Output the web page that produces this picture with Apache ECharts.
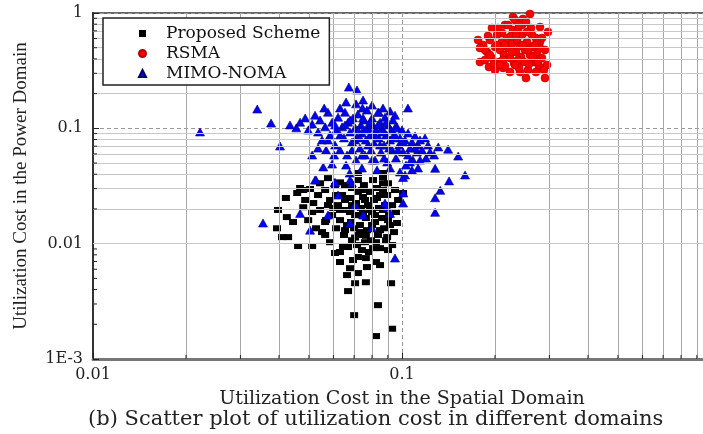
<!DOCTYPE html>
<html>
<head>
<meta charset="utf-8">
<script src="https://cdn.jsdelivr.net/npm/echarts@6/dist/echarts.min.js"></script>
<style>
html,body{margin:0;padding:0;background:#fff;}
#chart{width:703px;height:434px;}
</style>
</head>
<body>
<div id="chart"></div>
<script>
// ---- Data ----
var seriesNames = ['Proposed Scheme', 'RSMA', 'MIMO-NOMA'];

var proposedScheme = [
  [0.0421,0.0249],[0.0397,0.0196],[0.0394,0.0136],[0.0409,0.0114],[0.0428,0.0114],[0.0461,0.00953],
  [0.0512,0.00953],[0.0424,0.0170],[0.0444,0.0154],[0.0468,0.0304],[0.0504,0.0298],[0.0479,0.0207],
  [0.0512,0.0188],[0.0551,0.0126],[0.0607,0.00830],[0.0630,0.00693],[0.0664,0.00534],[0.0669,0.00388],
  [0.0705,0.00454],[0.0720,0.00556],[0.0764,0.00463],[0.0770,0.00627],[0.0824,0.00693],[0.0849,0.00652],
  [0.0922,0.00454],[0.0836,0.00293],[0.0700,0.00240],[0.0929,0.00183],[0.0824,0.00158],[0.0901,0.00880],
  [0.1008,0.0275],[0.0868,0.0292],[0.0868,0.0377],[0.0963,0.0151],[0.0895,0.0114],[0.0849,0.00915],
  [0.0720,0.00766],[0.0630,0.00846],[0.0679,0.00613],[0.0458,0.0275],[0.0479,0.0292],[0.0576,0.0370],
  [0.0720,0.0410],[0.0868,0.0410],[0.0868,0.0334],
  [0.0535,0.0264],[0.0564,0.0292],[0.0585,0.0239],[0.0607,0.0316],[0.0621,0.0216],[0.0640,0.0264],
  [0.0654,0.0322],[0.0669,0.0196],[0.0679,0.0249],[0.0689,0.0304],[0.0705,0.0177],[0.0710,0.0225],
  [0.0720,0.0281],[0.0731,0.0145],[0.0736,0.0204],[0.0748,0.0254],[0.0753,0.0322],[0.0764,0.0167],
  [0.0770,0.0131],[0.0776,0.0216],[0.0788,0.0281],[0.0794,0.0107],[0.0800,0.0188],[0.0812,0.0239],
  [0.0818,0.0154],[0.0830,0.0304],[0.0836,0.0119],[0.0842,0.0204],[0.0849,0.0264],[0.0862,0.0167],
  [0.0875,0.0136],[0.0881,0.0216],[0.0895,0.0264],[0.0908,0.0177],[0.0915,0.0145],[0.0929,0.0216],
  [0.0942,0.0126],[0.0956,0.0188],[0.0971,0.0239],[0.0543,0.0196],[0.0568,0.0160],[0.0594,0.0177],
  [0.0612,0.0136],[0.0630,0.0160],[0.0649,0.0119],[0.0664,0.0145],[0.0689,0.0107],[0.0700,0.0136],
  [0.0715,0.00972],[0.0726,0.0119],[0.0742,0.00880],[0.0759,0.0103],[0.0782,0.00846],[0.0806,0.00915],
  [0.0824,0.0103],[0.0564,0.0119],[0.0585,0.0103],[0.0527,0.0136],[0.0497,0.0160],[0.0486,0.0239],
  [0.0516,0.0225],[0.0543,0.0334],[0.0630,0.0340],[0.0720,0.0356],[0.0806,0.0356],[0.0901,0.0334],
  [0.0949,0.0292],[0.0669,0.00935],[0.0764,0.00750],[0.0654,0.0131],[0.0599,0.0204],[0.0684,0.0154],
  [0.0748,0.0184],[0.0818,0.0177],[0.0888,0.0107],[0.0929,0.00972],[0.0644,0.00953],[0.0694,0.00721],
  [0.0654,0.0239],[0.0689,0.0216],[0.0720,0.0177],[0.0742,0.0292],[0.0759,0.0239],[0.0788,0.0196],
  [0.0800,0.0145],[0.0830,0.0249],[0.0849,0.0131],[0.0868,0.0196],[0.0731,0.0126],[0.0705,0.0113],
  [0.0679,0.0188],[0.0630,0.0196],[0.0612,0.0264],[0.0576,0.0216],[0.0564,0.0154],[0.0764,0.0117],
  [0.0901,0.0160]
];

var rsma = [
  [0.1955,0.741],[0.2154,0.787],[0.2287,0.923],[0.2463,0.887],[0.2595,0.98],[0.2796,0.756],
  [0.2967,0.684],[0.1762,0.583],[0.1788,0.376],[0.2123,0.334],[0.2409,0.308],[0.2519,0.273],
  [0.2902,0.273],[0.2945,0.354],[0.2796,0.561],[0.2107,0.671],[0.2445,0.787],
  [0.1829,0.528],[0.1884,0.459],[0.1926,0.583],[0.1955,0.407],[0.2000,0.508],[0.2030,0.645],
  [0.2061,0.376],[0.2076,0.478],[0.2107,0.561],[0.2138,0.432],[0.2154,0.347],[0.2187,0.607],
  [0.2203,0.498],[0.2236,0.407],[0.2270,0.539],[0.2287,0.712],[0.2304,0.368],[0.2338,0.459],
  [0.2356,0.583],[0.2391,0.334],[0.2409,0.518],[0.2427,0.415],[0.2445,0.645],[0.2481,0.376],
  [0.2500,0.478],[0.2538,0.561],[0.2557,0.320],[0.2595,0.432],[0.2614,0.741],[0.2653,0.508],
  [0.2673,0.376],[0.2713,0.607],[0.2733,0.441],[0.2775,0.347],[0.2796,0.498],[0.2837,0.407],
  [0.2880,0.320],[0.1856,0.391],[0.1912,0.340],[0.2000,0.320],[0.2236,0.308],[0.2373,0.712],
  [0.2519,0.835],[0.2634,0.645],[0.2321,0.870],[0.2045,0.741],[0.2203,0.787],[0.2713,0.308],
  [0.2902,0.478],[0.2837,0.607],[0.1898,0.632],[0.1985,0.361],[0.2123,0.391],[0.2253,0.632],
  [0.2576,0.361],[0.2693,0.528],[0.1856,0.478],[0.1926,0.432],[0.2030,0.528],[0.2154,0.528],
  [0.2270,0.459],[0.2373,0.391],[0.2463,0.528],[0.2557,0.478],[0.2653,0.415],[0.2754,0.376],
  [0.2321,0.354],[0.2076,0.354],[0.1788,0.498],[0.2538,0.684],[0.2391,0.787],[0.2338,0.645]
];

var mimoNoma = [
  [0.0222,0.093],[0.034,0.147],[0.0377,0.111],[0.0403,0.0703],[0.0673,0.228],[0.0715,0.215],
  [0.0748,0.176],[0.0659,0.169],[0.0745,0.150],[0.1045,0.150],[0.0915,0.141],[0.0842,0.138],
  [0.160,0.0394],[0.152,0.0575],[0.141,0.066],[0.142,0.035],[0.133,0.029],[0.128,0.045],
  [0.127,0.0587],[0.131,0.069],[0.128,0.025],[0.101,0.0275],[0.0512,0.0587],[0.0527,0.0357],
  [0.0556,0.0463],[0.0594,0.049],[0.0606,0.0337],[0.0688,0.0337],[0.0677,0.0409],[0.128,0.0187],
  [0.0434,0.107],[0.0455,0.101],[0.0468,0.113],[0.0486,0.123],[0.0497,0.0967],[0.0512,0.109],
  [0.0523,0.130],[0.0535,0.0929],[0.0543,0.118],[0.0551,0.0792],[0.0564,0.103],[0.0576,0.138],
  [0.0585,0.0875],[0.0594,0.113],[0.0607,0.0716],[0.0612,0.0967],[0.0621,0.125],[0.0630,0.0648],
  [0.0640,0.103],[0.0649,0.0826],[0.0654,0.138],[0.0664,0.0587],[0.0669,0.113],[0.0679,0.0929],
  [0.0689,0.0761],[0.0694,0.123],[0.0705,0.101],[0.0710,0.0531],[0.0715,0.0842],[0.0720,0.133],
  [0.0731,0.0674],[0.0736,0.107],[0.0742,0.0910],[0.0753,0.118],[0.0759,0.0587],[0.0764,0.0792],
  [0.0770,0.144],[0.0776,0.101],[0.0788,0.0875],[0.0794,0.0648],[0.0800,0.123],[0.0806,0.107],
  [0.0812,0.0746],[0.0818,0.0531],[0.0824,0.0967],[0.0836,0.138],[0.0842,0.0826],[0.0849,0.113],
  [0.0855,0.0623],[0.0862,0.101],[0.0875,0.0716],[0.0881,0.125],[0.0888,0.0875],[0.0895,0.0511],
  [0.0901,0.107],[0.0915,0.0792],[0.0922,0.0967],[0.0929,0.0648],[0.0935,0.118],[0.0949,0.0875],
  [0.0956,0.0553],[0.0963,0.103],[0.0978,0.0716],[0.0985,0.0826],[0.1000,0.0967],[0.1008,0.0623],
  [0.1023,0.0792],[0.1030,0.0480],[0.1046,0.0910],[0.1061,0.0674],[0.1077,0.0761],[0.1085,0.0531],
  [0.1102,0.0859],[0.1118,0.0623],[0.1127,0.0716],[0.1144,0.0792],[0.1161,0.0648],[0.1187,0.0826],
  [0.1196,0.0553],[0.1214,0.0716],[0.1232,0.0623],[0.0535,0.0674],[0.0568,0.0648],[0.0603,0.0587],
  [0.0659,0.0480],[0.0742,0.0453],[0.0830,0.0435],[0.0915,0.0453],[0.0985,0.0418],[0.1077,0.0435],
  [0.0949,0.130],[0.0868,0.150],[0.0800,0.159],[0.0710,0.163],[0.0630,0.150],[0.0560,0.150],
  [0.0654,0.107],[0.0679,0.118],[0.0705,0.0792],[0.0720,0.0967],[0.0748,0.123],[0.0759,0.0967],
  [0.0776,0.0716],[0.0788,0.113],[0.0818,0.0875],[0.0836,0.107],[0.0849,0.0716],[0.0868,0.0929],
  [0.0888,0.113],[0.0908,0.0674],[0.0929,0.0826],[0.0949,0.101],[0.0971,0.0648],[0.1008,0.0761],
  [0.1046,0.0587],[0.1102,0.0674],[0.0689,0.0648],[0.0731,0.0826],[0.0630,0.0875],[0.0607,0.107],
  [0.0576,0.0792],[0.0742,0.0587],[0.0800,0.0531],[0.0875,0.0553],[0.1061,0.0511],[0.1144,0.0531],
  [0.1127,0.0453],[0.1023,0.0394],
  [0.0355,0.0151],[0.0679,0.0151],[0.0748,0.0177],[0.0800,0.0137],[0.0895,0.0207],[0.0915,0.0183],
  [0.0468,0.0183],[0.0504,0.0131],[0.0576,0.0177],[0.1008,0.0375],[0.1008,0.0225],[0.0949,0.00750],
  [0.0881,0.0225],[0.0705,0.0216],[0.0621,0.0264],[0.0523,0.0356],[0.0607,0.0340],[0.0679,0.0356]
];

// axis ticks / grid positions
var xMinorGrid = [0.02,0.03,0.04,0.05,0.06,0.07,0.08,0.09,0.2,0.3,0.4,0.5,0.6,0.7,0.8,0.9];
var yMinorGrid = [0.002,0.003,0.004,0.005,0.006,0.007,0.008,0.009,0.02,0.03,0.04,0.05,0.06,0.07,0.08,0.09,0.2,0.3,0.4,0.5,0.6,0.7,0.8,0.9];
var yTickLabels = {'1':'1','0.1':'0.1','0.01':'0.01','0.001':'1E-3'};
var xTickLabels = {'0.01':'0.01','0.1':'0.1','1':''};

var xTitle = 'Utilization Cost in the Spatial Domain';
var yTitle = 'Utilization Cost in the Power Domain';
var caption = '(b) Scatter plot of utilization cost in different domains';

// ---- Chart ----
var FONT = 'DejaVu Serif';
var chart = echarts.init(document.getElementById('chart'), null, {renderer:'canvas'});

var tickData = xMinorGrid.map(function(v){return [v, 0.001, 0];})
  .concat(yMinorGrid.map(function(v){return [0.01, v, 1];}));

var option = {
  animation: false,
  backgroundColor: '#fff',
  title: {
    text: caption, left: 88, top: 409, padding: 0,
    textStyle: {fontFamily: FONT, fontSize: 21, fontWeight: 'normal', color: '#222'}
  },
  grid: {left: 93, top: 13, width: 618, height: 346, outerBoundsMode: 'none', containLabel: false,
    show: true, borderColor: '#666', borderWidth: 2, backgroundColor: 'transparent'},
  legend: {
    data: [
      {name: seriesNames[0], icon: 'rect'},
      {name: seriesNames[1], icon: 'circle'},
      {name: seriesNames[2], icon: 'triangle'}
    ],
    orient: 'vertical', left: 103, top: 18,
    padding: [7, 9, 3, 35],
    itemWidth: 7, itemHeight: 7, itemGap: 3,
    backgroundColor: '#fff', borderColor: '#222', borderWidth: 1.5, borderRadius: 0,
    textStyle: {fontFamily: FONT, fontSize: 17, color: '#111', padding: [0,0,0,15], lineHeight: 17},
    z: 10
  },
  xAxis: {
    type: 'log', logBase: 10, min: 0.01, max: 1,
    name: xTitle, nameLocation: 'middle', nameGap: 31,
    nameTextStyle: {fontFamily: FONT, fontSize: 19, color: '#222'},
    axisLine: {show: true, lineStyle: {color: '#777', width: 3}},
    axisTick: {show: true, inside: true, length: 6, lineStyle: {color: '#222'}},
    axisLabel: {fontFamily: FONT, fontSize: 16, color: '#222', margin: 8,
      formatter: function(v){ var k = String(+v.toPrecision(3)); return xTickLabels[k] !== undefined ? xTickLabels[k] : k; }},
    splitLine: {show: true, lineStyle: {color: '#999', type: [4,3], width: 1}}
  },
  yAxis: {
    type: 'log', logBase: 10, min: 0.001, max: 1,
    name: yTitle, nameLocation: 'middle', nameGap: 62,
    nameTextStyle: {fontFamily: 'Liberation Serif', fontSize: 19, color: '#222'},
    axisLine: {show: true, lineStyle: {color: '#333', width: 2}},
    axisTick: {show: true, inside: true, length: 6, lineStyle: {color: '#222'}},
    axisLabel: {fontFamily: FONT, fontSize: 16, color: '#222', margin: 10,
      formatter: function(v){ var k = String(+v.toPrecision(3)); return yTickLabels[k] !== undefined ? yTickLabels[k] : k; }},
    splitLine: {show: true, lineStyle: {color: '#999', type: [4,3], width: 1}}
  },
  series: [
    {
      name: 'grid', type: 'scatter', data: [], silent: true, z: 1,
      markLine: {
        silent: true, symbol: 'none', animation: false,
        label: {show: false},
        data: xMinorGrid.map(function(v){return {xAxis: v, lineStyle: {color: '#a8a8a8', width: 1, type: 'solid'}};})
          .concat(yMinorGrid.map(function(v){return {yAxis: v, lineStyle: {color: '#c8c8c8', width: 1, type: 'solid'}};}))
      }
    },
    {
      name: seriesNames[0], type: 'scatter', z: 3,
      symbol: 'rect', symbolSize: [8, 6],
      itemStyle: {color: '#000', opacity: 1},
      data: proposedScheme
    },
    {
      name: seriesNames[1], type: 'scatter', z: 3,
      symbol: 'circle', symbolSize: 8,
      itemStyle: {color: '#ff0000', borderColor: '#b00000', borderWidth: 0.6, opacity: 1},
      data: rsma
    },
    {
      name: seriesNames[2], type: 'scatter', z: 4,
      symbol: 'triangle', symbolSize: [9, 8],
      itemStyle: {color: '#0000ff', borderColor: '#00006a', borderWidth: 0.6, opacity: 1},
      data: mimoNoma
    },
    {
      name: 'ticks', type: 'custom', silent: true, z: 5, clip: false,
      renderItem: function(params, api){
        var p = api.coord([api.value(0), api.value(1)]);
        var isY = api.value(2) === 1;
        return {type: 'line',
          shape: isY ? {x1: p[0], y1: p[1], x2: p[0] + 4, y2: p[1]} : {x1: p[0], y1: p[1], x2: p[0], y2: p[1] - 4},
          style: {stroke: '#222', lineWidth: 1}};
      },
      data: tickData
    }
  ]
};
chart.setOption(option);
</script>
</body>
</html>
